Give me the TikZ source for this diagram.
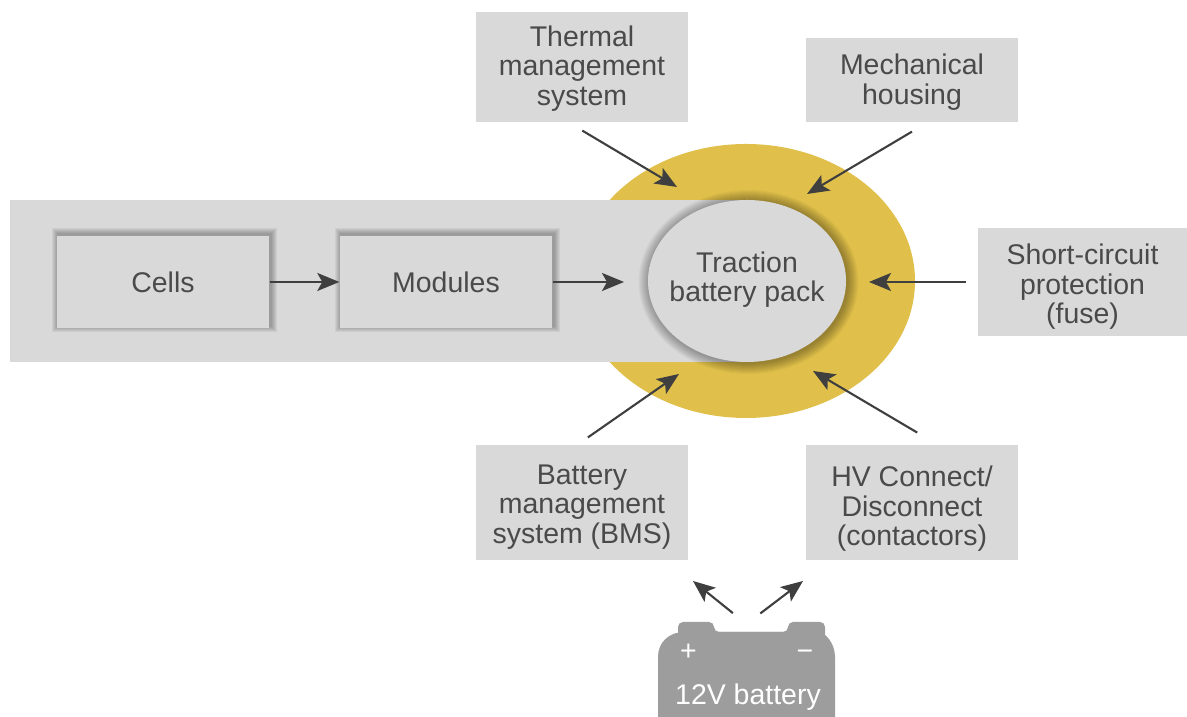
\documentclass[tikz,border=0pt]{standalone}
\usepackage{fontspec}
\setmainfont{Liberation Sans}
\usetikzlibrary{arrows.meta}
\definecolor{boxgray}{HTML}{D9D9D9}
\definecolor{packyellow}{HTML}{E0C04B}
\definecolor{textgray}{HTML}{4A4A4A}
\definecolor{linegray}{HTML}{3F3F3F}
\definecolor{battgray}{HTML}{9D9D9D}
\newcommand{\droptext}[1]{\rule{0pt}{#1pt}}
\tikzset{
	label/.style={font=\fontsize{8.1}{8.4}\selectfont,text=textgray,align=center,inner sep=0pt},
	box/.style={label,fill=boxgray,minimum width=2.12cm},
	softshadow/.style={black,opacity=.03},
	conn/.style={line width=.6pt,draw=linegray,-{Stealth[length=.22cm,width=.18cm,inset=.05cm]}},
	battlabel/.style={font=\fontsize{8.1}{8.4}\selectfont,text=white,inner sep=0pt},
}
\begin{document}
\begin{tikzpicture}
	\useasboundingbox (0,0) rectangle (11.87,7.17);
	\fill [packyellow] (7.46,4.36) ellipse [x radius=1.69,y radius=1.37];
	\fill [boxgray] (0.10,3.55) rectangle (7.47,5.17);
	\foreach \s in {.01,.02,...,.12}
		\fill [softshadow] (7.485,4.35) ellipse [x radius=.99+\s,y radius=.81+\s];
	\fill [boxgray] (7.47,4.36) ellipse [x radius=.99,y radius=.81];
	\foreach \cx in {1.63,4.46}
		\foreach \s in {.01,.02,...,.07}
			\fill [softshadow,opacity=.05] ({\cx-1.05-\s},{3.905-\s}) rectangle ({\cx+1.075+\s},{4.825+\s});
	\node [label] (pack) at (7.47,4.375) {Traction\\battery pack};
	\node [box,minimum height=.92cm] (cells) at (1.63,4.35) {Cells};
	\node [box,minimum height=.92cm] (modules) at (4.46,4.35) {Modules};
	\node [box,minimum height=1.10cm] (thermal) at (5.82,6.50) {\droptext{6.6}Thermal\\management\\system};
	\node [box,minimum height=.84cm] (housing) at (9.12,6.37) {\droptext{7.0}Mechanical\\housing};
	\node [box,minimum width=2.09cm,minimum height=1.08cm] (fuse) at (10.825,4.35) {\droptext{8.6}Short-circuit\\protection\\(fuse)};
	\node [box,minimum height=1.15cm] (bms) at (5.82,2.145) {\droptext{8.2}Battery\\management\\system (BMS)};
	\node [box,minimum height=1.15cm] (contactors) at (9.12,2.145) {\droptext{9.4}HV Connect/\\Disconnect\\(contactors)};
	\fill [battgray,rounded corners=.05cm] (6.78,0.75) -- (6.78,0.95) -- (7.14,0.95) -- (7.14,0.85) -- (7.88,0.85) -- (7.88,0.95) -- (8.25,0.95) -- (8.25,0.40) -- (6.78,0.40) -- cycle;
	\fill [battgray] (6.58,0) -- (6.58,0.60) .. controls (6.58,0.74) and (6.68,0.85) .. (6.85,0.85) -- (8.18,0.85) .. controls (8.25,0.85) and (8.35,0.74) .. (8.35,0.60) -- (8.35,0) -- cycle;
	\node [inner sep=0pt,minimum width=1.77cm,minimum height=.95cm] (battery) at (7.465,0.475) {};
	\node [battlabel] (plus) at (6.885,0.645) {+};
	\node [battlabel] (minus) at (8.05,0.62) {−};
	\node [battlabel] (batttext) at (7.48,0.20) {12V battery};
	\coordinate (thermaltip) at (6.77,5.30);
	\coordinate (housingtip) at (8.07,5.23);
	\coordinate (fusetip) at (8.69,4.35);
	\coordinate (bmstip) at (6.79,3.43);
	\coordinate (contactorstip) at (8.13,3.46);
	\coordinate (modulestip) at (6.24,4.35);
	\coordinate (battlefttip) at (6.93,1.36);
	\coordinate (battrighttip) at (8.03,1.36);
	\draw [conn] (cells) -- (modules);
	\draw [conn] (modules.east) -- (modulestip);
	\draw [conn,shorten <=.155cm] ([xshift=-.13cm]thermal.south) -- (thermaltip);
	\draw [conn,shorten <=.175cm] ([xshift=.15cm]housing.south) -- (housingtip);
	\draw [conn,shorten <=.11cm] (fuse.west) -- (fusetip);
	\draw [conn,shorten <=.12cm] ([xshift=-.04cm]bms.north) -- (bmstip);
	\draw [conn,shorten <=.23cm] ([xshift=.25cm]contactors.north) -- (contactorstip);
	\draw [conn,shorten <=.13cm] ([xshift=-.035cm]battery.north) -- (battlefttip);
	\draw [conn,shorten <=.13cm] ([xshift=.035cm]battery.north) -- (battrighttip);
\end{tikzpicture}
\end{document}
